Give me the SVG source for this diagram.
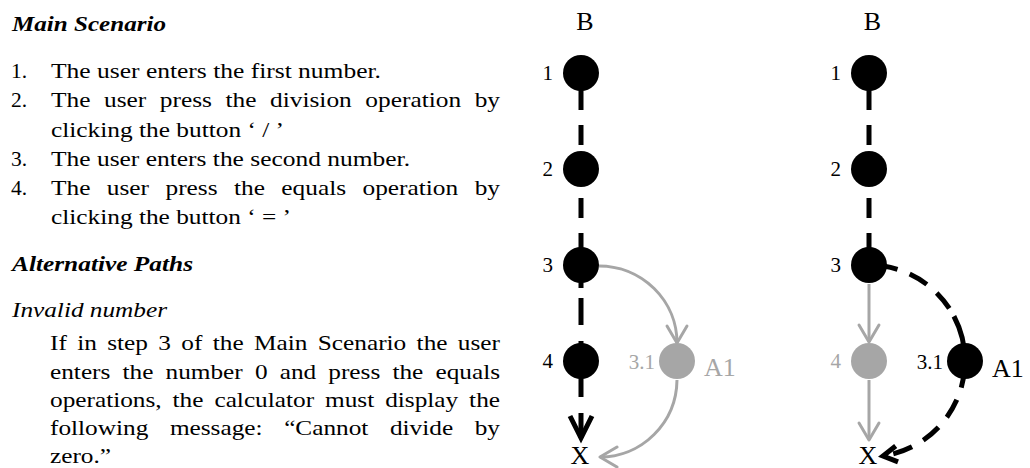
<svg xmlns="http://www.w3.org/2000/svg" width="1030" height="468" viewBox="0 0 1030 468">
<style>
.t{font-family:"Liberation Serif","Times New Roman",serif;font-size:21.5px;fill:#000}
.h{font-weight:bold;font-style:italic;font-size:22px}
.i{font-style:italic}
.lbl{font-family:"Liberation Serif","Times New Roman",serif;font-size:21px}
.big{font-family:"Liberation Serif","Times New Roman",serif;font-size:26px}
.blk{fill:#000}
.gry{fill:#a6a6a6}
.dash{fill:none;stroke:#000;stroke-width:5}
.gline{fill:none;stroke:#a6a6a6;stroke-width:3}
</style>
<defs>
<marker id="ga" markerUnits="userSpaceOnUse" orient="auto" overflow="visible" markerWidth="1" markerHeight="1" refX="0" refY="0">
<path d="M-17,-10 L0,0 L-17,10" fill="none" stroke="#a6a6a6" stroke-width="3" stroke-linecap="round" stroke-linejoin="round"/>
</marker>
<marker id="bab" markerUnits="userSpaceOnUse" orient="auto" overflow="visible" markerWidth="1" markerHeight="1" refX="0" refY="0">
<path d="M-22,-11 L0,0 L-22,11" fill="none" stroke="#000" stroke-width="5" stroke-linejoin="miter"/>
</marker>
<marker id="bas" markerUnits="userSpaceOnUse" orient="auto" overflow="visible" markerWidth="1" markerHeight="1" refX="0" refY="0">
<path d="M-14,-8 L0,0 L-14,8" fill="none" stroke="#000" stroke-width="5" stroke-linejoin="miter"/>
</marker>
</defs>
<rect width="1030" height="468" fill="#fff"/>

<g id="usecase-text" class="t">
<text class="t h" x="12" y="31" textLength="154" lengthAdjust="spacingAndGlyphs">Main Scenario</text>
<text x="11" y="78">1.</text>
<text x="51" y="78" textLength="330" lengthAdjust="spacingAndGlyphs">The user enters the first number.</text>
<text x="11" y="107">2.</text>
<text x="51" y="107" textLength="449" lengthAdjust="spacingAndGlyphs" style="word-spacing:6.16px">The user press the division operation by</text>
<text x="51" y="136.5" textLength="233" lengthAdjust="spacingAndGlyphs">clicking the button ‘ / ’</text>
<text x="11" y="166">3.</text>
<text x="51" y="166" textLength="359" lengthAdjust="spacingAndGlyphs">The user enters the second number.</text>
<text x="11" y="195">4.</text>
<text x="51" y="195" textLength="449" lengthAdjust="spacingAndGlyphs" style="word-spacing:8.57px">The user press the equals operation by</text>
<text x="51" y="224" textLength="240" lengthAdjust="spacingAndGlyphs">clicking the button ‘ = ’</text>
<text class="t h" x="12" y="271" textLength="181" lengthAdjust="spacingAndGlyphs">Alternative Paths</text>
<text class="t i" x="12" y="317" textLength="155" lengthAdjust="spacingAndGlyphs">Invalid number</text>
<text x="50" y="350" textLength="450" lengthAdjust="spacingAndGlyphs" style="word-spacing:3.44px">If in step 3 of the Main Scenario the user</text>
<text x="50" y="378.5" textLength="450" lengthAdjust="spacingAndGlyphs" style="word-spacing:4.94px">enters the number 0 and press the equals</text>
<text x="50" y="406.5" textLength="450" lengthAdjust="spacingAndGlyphs" style="word-spacing:3.91px">operations, the calculator must display the</text>
<text x="50" y="435" textLength="450" lengthAdjust="spacingAndGlyphs" style="word-spacing:12.95px">following message: “Cannot divide by</text>
<text x="50" y="463" textLength="61" lengthAdjust="spacingAndGlyphs">zero.”</text>
</g>

<g id="connectors">
<!-- left diagram -->
<path class="dash" d="M581,73 V153" stroke-dasharray="20 15" stroke-dashoffset="18"/>
<path class="dash" d="M581,169 V265" stroke-dasharray="20 15" stroke-dashoffset="6"/>
<path class="dash" d="M581,265 V361" stroke-dasharray="23 10 27 16 40"/>
<path class="dash" d="M581,361 V438" stroke-dasharray="36 16 60" marker-end="url(#bab)"/>
<path class="gline" d="M599,266 A78,77 0 0 1 677,343" marker-end="url(#ga)"/>
<path class="gline" d="M677,380 A77,78 0 0 1 600,457" marker-end="url(#ga)"/>
<!-- right diagram -->
<path class="dash" d="M869,73 V153" stroke-dasharray="20 15" stroke-dashoffset="18"/>
<path class="dash" d="M869,169 V265" stroke-dasharray="20 15" stroke-dashoffset="6"/>
<path class="gline" d="M869,284 V342" marker-end="url(#ga)"/>
<path class="gline" d="M869,380 V440" marker-end="url(#ga)"/>
<path class="dash" d="M869,265 A96,96 0 0 1 965,361" stroke-dasharray="29 13 20 13 20 9 60"/>
<path class="dash" d="M965,361 A96,96 0 0 1 883,456" stroke-dasharray="20 13" stroke-dashoffset="26" marker-end="url(#bas)"/>
</g>

<!-- left diagram nodes -->
<g id="L-B"><text class="big" x="585" y="30" text-anchor="middle">B</text></g>
<g id="L-n1"><circle class="blk" cx="581" cy="73" r="18"/><text class="lbl" x="553" y="80" text-anchor="end">1</text></g>
<g id="L-n2"><circle class="blk" cx="581" cy="169" r="18"/><text class="lbl" x="553" y="176" text-anchor="end">2</text></g>
<g id="L-n3"><circle class="blk" cx="581" cy="265" r="18"/><text class="lbl" x="553" y="272" text-anchor="end">3</text></g>
<g id="L-n4"><circle class="blk" cx="581" cy="361" r="18"/><text class="lbl" x="553" y="368" text-anchor="end">4</text></g>
<g id="L-A1"><circle class="gry" cx="677" cy="361" r="18"/><text class="lbl gry" x="655" y="369" text-anchor="end">3.1</text><text class="big gry" x="704" y="376">A1</text></g>
<g id="L-X"><text class="big" x="580" y="464" text-anchor="middle">X</text></g>

<!-- right diagram nodes -->
<g id="R-B"><text class="big" x="872.5" y="30" text-anchor="middle">B</text></g>
<g id="R-n1"><circle class="blk" cx="869" cy="73" r="18"/><text class="lbl" x="841" y="80" text-anchor="end">1</text></g>
<g id="R-n2"><circle class="blk" cx="869" cy="169" r="18"/><text class="lbl" x="841" y="176" text-anchor="end">2</text></g>
<g id="R-n3"><circle class="blk" cx="869" cy="265" r="18"/><text class="lbl" x="841" y="272" text-anchor="end">3</text></g>
<g id="R-n4"><circle class="gry" cx="869" cy="361" r="18"/><text class="lbl gry" x="841" y="368" text-anchor="end">4</text></g>
<g id="R-A1"><circle class="blk" cx="965" cy="361" r="18"/><text class="lbl" x="943" y="369" text-anchor="end">3.1</text><text class="big" x="992" y="377">A1</text></g>
<g id="R-X"><text class="big" x="868" y="464" text-anchor="middle">X</text></g>
</svg>
